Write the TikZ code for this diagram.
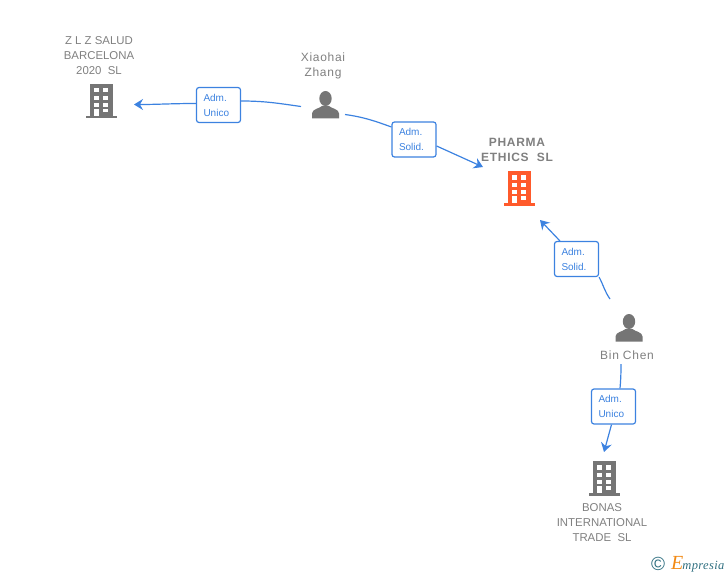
\documentclass[tikz,border=0pt]{standalone}
\usepackage{fontspec}
\setmainfont{Liberation Sans}
\newfontfamily\spacedfont[LetterSpace=6]{Liberation Sans}
\newfontfamily\logofont[LetterSpace=3]{Liberation Serif}
\usetikzlibrary{arrows.meta}
\definecolor{linkblue}{HTML}{3C82E0}
\definecolor{labelgray}{HTML}{808080}
\definecolor{icongray}{HTML}{757575}
\definecolor{mainorange}{HTML}{FF5A2B}
\definecolor{logoteal}{HTML}{2F6F80}
\definecolor{logoorange}{HTML}{F28A14}
\tikzset{
    pics/building/.style={code={
        \fill[#1] (-11,-17) rectangle (11.7,15.5);
        \fill[#1] (-15.3,15) rectangle (16,17.5);
        \foreach \y in {-12.7,-5,2} {
            \fill[white] (-6.7,\y) rectangle (-2,\y+4.2);
            \fill[white] (2.3,\y) rectangle (7.3,\y+4.2);
        }
        \fill[white] (-6.7,8) rectangle (-2.5,15);
        \fill[white] (2.3,8) rectangle (7.3,11.5);
    }},
    pics/person/.style={code={
        \fill[icongray] (0,-6.5) ellipse (6.2 and 7.5);
        \fill[icongray] (-13.5,13.5) -- (-13.5,8.5) .. controls (-13.5,4) and (-6,3.5) .. (-3.5,1)
            -- (3.5,1) .. controls (6,3.5) and (13.5,4) .. (13.5,8.5) -- (13.5,13.5) -- cycle;
    }}
}
\begin{document}
\begin{tikzpicture}[
        x=1pt, y=-1pt,
        entity/.style={text=labelgray, font=\fontsize{11.4}{15}\selectfont, align=center, inner sep=0pt},
        human/.style={entity, font=\spacedfont\fontsize{12}{15}\selectfont},
        role/.style={draw=linkblue, rounded corners=2.5pt, line width=1.2pt, fill=white, text=linkblue,
            font=\fontsize{10}{15}\selectfont, align=left, minimum width=44pt, minimum height=35pt,
            inner sep=0pt, text width=30pt},
        link/.style={draw=linkblue, line width=1.2pt},
        arrowlink/.style={link, -{Stealth[length=9pt,width=11pt,inset=3pt]}}
    ]
    \useasboundingbox (0,0) rectangle (728,575);

    % companies
    \pic at (101,101) {building=icongray};
    \pic at (519,188) {building=mainorange};
    \pic at (604,478) {building=icongray};

    \node[entity] (zlz) at (99,56) {Z L Z SALUD\\BARCELONA\\2020\ \ SL};
    \node[entity, font=\spacedfont\bfseries\fontsize{12}{15}\selectfont] (pharma) at (517,149.5) {PHARMA\\ETHICS\ \ SL};
    \node[entity] (bonas) at (602,523) {BONAS\\INTERNATIONAL\\TRADE\ \ SL};

    % people
    \pic at (325.5,105) {person};
    \pic at (629,328) {person};

    \node[human] (xiaohai) at (323,65.5) {Xiaohai\\Zhang};
    \node[human] (binchen) at (627,355) {Bin Chen};

    % roles
    \node[role] (adm1) at (218.5,105) {Adm.\\Unico};
    \node[role] (adm2) at (414,139.5) {Adm.\\Solid.};
    \node[role] (adm3) at (576.5,259) {Adm.\\Solid.};
    \node[role] (adm4) at (613.5,406.5) {Adm.\\Unico};

    \coordinate (xiaohaiL) at (301,106.5);
    \coordinate (xiaohaiR) at (345,114.5);
    \coordinate (binchenT) at (610,299);
    \coordinate (binchenB) at (621,364);
    \coordinate (zlzIn) at (134,104.5);
    \coordinate (pharmaL) at (483,167);
    \coordinate (pharmaB) at (540,220);
    \coordinate (bonasIn) at (604,452);

    \draw[link] (xiaohaiL) to[out=172, in=0] (adm1.east |- 0,101);
    \draw[arrowlink] (adm1.west |- 0,103.5) to[out=180, in=0] (zlzIn);
    \draw[link] (xiaohaiR) to[out=-8, in=160] (adm2.west |- 0,127);
    \draw[arrowlink] (adm2.east |- 0,146) -- (pharmaL);
    \draw[link] (binchenT) to[out=125, in=-62] (adm3.south east);
    \draw[arrowlink] (adm3.north west) ++(6,0) -- (pharmaB);
    \draw[link] (binchenB) to[out=-90, in=85] (adm4.north -| 620,0);
    \draw[arrowlink] (adm4.south -| 611.5,0) -- (bonasIn);

    % logo
    \node[inner sep=0pt, text=logoteal, font=\fontsize{19}{19}\selectfont] (copyr) at (658,564) {©};
    \node[inner sep=0pt, text=logoteal, font=\logofont\itshape\fontsize{12.5}{12.5}\selectfont, anchor=base west] (logo) at (671,569)
        {\textcolor{logoorange}{\fontsize{20}{20}\selectfont E}\hspace{-1pt}mpresia};
\end{tikzpicture}
\end{document}
